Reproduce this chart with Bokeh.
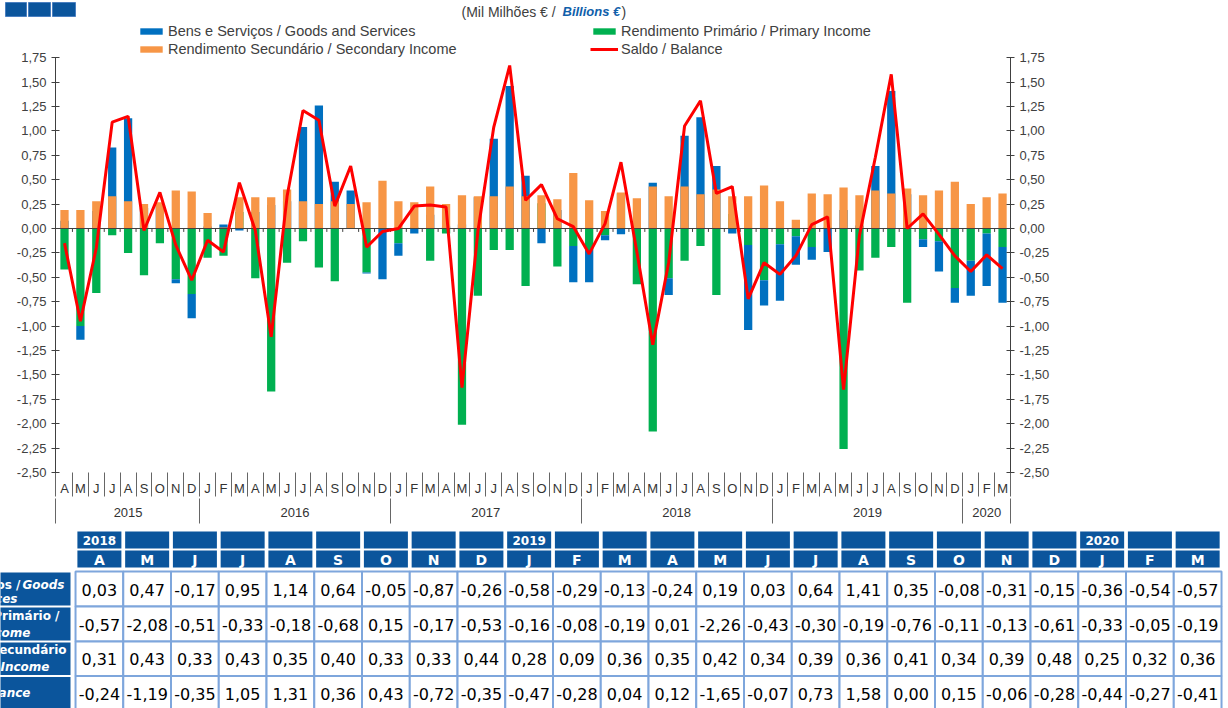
from bokeh.plotting import figure
from bokeh.models import (Range1d, LinearAxis, FixedTicker, CustomJSTickFormatter,
                          Legend, LegendItem, Label, ColumnDataSource)
from bokeh.embed import file_html
from bokeh.resources import INLINE
from bokeh.core.properties import value

# ---------------- data ----------------
months = ["A", "M", "J", "J", "A", "S", "O", "N", "D",
          "J", "F", "M", "A", "M", "J", "J", "A", "S", "O", "N", "D",
          "J", "F", "M", "A", "M", "J", "J", "A", "S", "O", "N", "D",
          "J", "F", "M", "A", "M", "J", "J", "A", "S", "O", "N", "D",
          "J", "F", "M", "A", "M", "J", "J", "A", "S", "O", "N", "D",
          "J", "F", "M"]
years = [2015] * 9 + [2016] * 12 + [2017] * 12 + [2018] * 12 + [2019] * 12 + [2020] * 3

goods = [0.08, -0.14, 0.18, 0.83, 1.13, 0.21, 0.25, -0.04, -0.25,
         0.02, 0.04, -0.02, 0.17, 0.24, 0.28, 1.04, 1.26, 0.48, 0.39, -0.01, -0.52,
         -0.13, -0.05, 0.14, 0.02, 0.04, 0.32, 0.92, 1.46, 0.54, -0.15, 0.19, -0.37,
         -0.33, -0.05, -0.06, 0.03, 0.47, -0.17, 0.95, 1.14, 0.64, -0.05, -0.87, -0.26,
         -0.58, -0.29, -0.13, -0.24, 0.19, 0.03, 0.64, 1.41, 0.35, -0.08, -0.31, -0.15,
         -0.36, -0.54, -0.57]
primary = [-0.42, -1.00, -0.66, -0.07, -0.25, -0.48, -0.15, -0.52, -0.67,
           -0.30, -0.28, 0.17, -0.51, -1.67, -0.35, -0.13, -0.40, -0.54, 0.00, -0.45, 0.00,
           -0.15, 0.01, -0.33, -0.05, -2.01, -0.69, -0.22, -0.22, -0.59, 0.26, -0.39, -0.18,
           -0.22, -0.07, 0.36, -0.57, -2.08, -0.51, -0.33, -0.18, -0.68, 0.15, -0.17, -0.53,
           -0.16, -0.08, -0.19, 0.01, -2.26, -0.43, -0.30, -0.19, -0.76, -0.11, -0.13, -0.61,
           -0.33, -0.05, -0.19]
secondary = [0.19, 0.19, 0.28, 0.33, 0.28, 0.25, 0.27, 0.39, 0.38,
             0.16, 0.01, 0.32, 0.32, 0.32, 0.40, 0.28, 0.25, 0.28, 0.25, 0.27, 0.49,
             0.28, 0.27, 0.43, 0.25, 0.34, 0.33, 0.33, 0.43, 0.33, 0.34, 0.30, 0.57,
             0.29, 0.18, 0.37, 0.31, 0.43, 0.33, 0.43, 0.35, 0.40, 0.33, 0.33, 0.44,
             0.28, 0.09, 0.36, 0.35, 0.42, 0.34, 0.39, 0.36, 0.41, 0.34, 0.39, 0.48,
             0.25, 0.32, 0.36]
balance = [-0.15, -0.95, -0.20, 1.09, 1.15, -0.02, 0.37, -0.17, -0.53,
           -0.12, -0.24, 0.47, -0.02, -1.11, 0.33, 1.21, 1.11, 0.23, 0.64, -0.19, -0.03,
           0.00, 0.23, 0.24, 0.22, -1.63, -0.03, 1.04, 1.67, 0.29, 0.45, 0.10, 0.02,
           -0.26, 0.05, 0.68, -0.24, -1.19, -0.35, 1.05, 1.31, 0.36, 0.43, -0.72, -0.35,
           -0.47, -0.28, 0.04, 0.12, -1.65, -0.07, 0.73, 1.58, 0.00, 0.15, -0.06, -0.28,
           -0.44, -0.27, -0.41]

series_names = ["Bens e Serviços / Goods and Services",
                "Rendimento Primário / Primary Income",
                "Rendimento Secundário / Secondary Income",
                "Saldo / Balance"]
y_ticks = [i * 0.25 for i in range(-10, 8)]
N_TABLE = 24

# ---------------- styles ----------------
FONT = "Liberation Sans"
TFONT = "DejaVu Sans"
BLUE, GREEN, ORANGE, RED = "#0070C0", "#00B050", "#F79646", "#FF0000"
HDR = "#0B559C"
GRIDC = "#7EA6DC"
TXT = "#404040"
W = 1228

n = len(months)
idx = list(range(n))
# goods stacked on primary when they share sign, else drawn from zero
g_bot = [pp if g * pp > 0 else 0.0 for g, pp in zip(goods, primary)]
g_top = [b + g for b, g in zip(g_bot, goods)]
src = ColumnDataSource(dict(x=idx, gb=g_bot, gt=g_top, pr=primary, se=secondary, ba=balance))

# ---------------- header strip (page y 0..22) ----------------
hdr = figure(width=W, height=22, x_range=Range1d(0, W), y_range=Range1d(22, 0),
             output_backend="svg", toolbar_location=None,
             x_axis_location=None, y_axis_location=None, min_border=0)
hdr.outline_line_color = None
hdr.grid.visible = False
hdr.quad(left=[5, 28, 52], right=[26, 50, 75], top=[2, 2, 2], bottom=[16, 16, 16],
         fill_color=HDR, line_color="#4a7fc0", line_width=1)
hdr.add_layout(Label(x=461, y=11, text="(Mil Milhões € /", text_font=FONT,
                     text_font_size="14px", text_color=TXT, text_baseline="middle"))
hdr.add_layout(Label(x=562, y=11, text="Billions  €", text_font=FONT,
                     text_font_style="bold italic", text_font_size="13px",
                     text_color="#1060AA", text_baseline="middle"))
hdr.add_layout(Label(x=621, y=11, text=")", text_font=FONT,
                     text_font_size="14px", text_color=TXT, text_baseline="middle"))

# ---------------- chart (page y 22..524) ----------------
p = figure(width=W, height=502, x_range=Range1d(-0.566, 59.5), y_range=Range1d(-2.5, 2.111),
           output_backend="svg", toolbar_location=None,
           x_axis_location=None, y_axis_location=None,
           min_border=0, min_border_left=55, min_border_right=218,
           min_border_top=0, min_border_bottom=52)
p.outline_line_color = None
p.grid.visible = False

BW = 0.52
rg = p.vbar(x="x", bottom=0, top="pr", width=BW, source=src, fill_color=GREEN, line_color=None)
rb = p.vbar(x="x", bottom="gb", top="gt", width=BW, source=src, fill_color=BLUE, line_color=None)
ro = p.vbar(x="x", bottom=0, top="se", width=BW, source=src, fill_color=ORANGE, line_color=None)
p.hspan(y=[0], line_color=TXT, line_width=1)
inner_bounds = [i + 0.5 for i in range(n - 1)]
p.segment(x0="b", x1="b", y0=0, y1=-0.035, source=ColumnDataSource(dict(b=inner_bounds)),
          line_color=TXT, line_width=1)
rl = p.line(x="x", y="ba", source=src, line_color=RED, line_width=3)

yfmt = CustomJSTickFormatter(code="return tick.toFixed(2).replace('.', ',');")
for loc in ("left", "right"):
    ax = LinearAxis(ticker=FixedTicker(ticks=y_ticks), formatter=yfmt, bounds=(-2.5, 1.75))
    ax.axis_line_color = TXT
    ax.major_tick_line_color = TXT
    ax.major_tick_in = 4
    ax.major_tick_out = 4
    ax.minor_tick_line_color = None
    ax.major_label_text_font = FONT
    ax.major_label_text_font_size = "13px"
    ax.major_label_text_color = TXT
    ax.major_label_standoff = 5
    p.add_layout(ax, loc)

x0, x1 = p.x_range.start + 0.006, p.x_range.end - 0.006
month_bounds = [x0] + inner_bounds + [x1]
mfmt = CustomJSTickFormatter(args=dict(labels=months),
                             code="const i = Math.round(tick); return (i >= 0 && i < labels.length) ? labels[i] : '';")
mx = LinearAxis(ticker=FixedTicker(ticks=idx, minor_ticks=month_bounds), formatter=mfmt)
mx.axis_line_color = None
mx.major_tick_line_color = None
mx.major_tick_in = 0
mx.major_tick_out = 0
mx.minor_tick_line_color = "#666666"
mx.minor_tick_in = 0
mx.minor_tick_out = 24
mx.major_label_standoff = -16
mx.major_label_text_font = FONT
mx.major_label_text_font_size = "13px"
mx.major_label_text_color = "#333333"
p.add_layout(mx, "below")

uniq_years = sorted(set(years))
year_centers = [sum(i for i in idx if years[i] == y) / years.count(y) for y in uniq_years]
year_bounds = [x0] + [i - 0.5 for i in idx[1:] if years[i] != years[i - 1]] + [x1]
yrfmt = CustomJSTickFormatter(args=dict(c=year_centers, nm=[str(y) for y in uniq_years]),
                              code="for (let i = 0; i < c.length; i++) { if (Math.abs(c[i] - tick) < 1e-6) return nm[i]; } return '';")
yx = LinearAxis(ticker=FixedTicker(ticks=year_centers, minor_ticks=year_bounds), formatter=yrfmt)
yx.axis_line_color = None
yx.major_tick_line_color = None
yx.major_tick_in = 0
yx.major_tick_out = 0
yx.minor_tick_line_color = "#666666"
yx.minor_tick_in = 0
yx.minor_tick_out = 25
yx.major_label_standoff = -16
yx.major_label_text_font = FONT
yx.major_label_text_font_size = "13px"
yx.major_label_text_color = "#333333"
p.add_layout(yx, "below")


def mk_leg(items, x):
    return Legend(items=items, location=(x, 415), orientation="vertical", padding=0, margin=0,
                  spacing=2, glyph_width=28, glyph_height=8, label_height=16, label_standoff=3,
                  label_text_font=FONT, label_text_font_size="14.5px", label_text_color=TXT,
                  border_line_color=None, background_fill_alpha=0)


p.add_layout(mk_leg([LegendItem(label=series_names[0], renderers=[rb]),
                     LegendItem(label=series_names[2], renderers=[ro])], 82))
p.add_layout(mk_leg([LegendItem(label=series_names[1], renderers=[rg]),
                     LegendItem(label=series_names[3], renderers=[rl])], 535))

# ---------------- table (page y 524..708) ----------------
t = figure(width=W, height=184, x_range=Range1d(0, W), y_range=Range1d(708, 524),
           output_backend="svg", toolbar_location=None,
           x_axis_location=None, y_axis_location=None, min_border=0)
t.outline_line_color = None
t.grid.visible = False

PITCH = 47.75
C0 = 98.9
tm = months[-N_TABLE:]
ty = years[-N_TABLE:]
cx = [C0 + PITCH * j for j in range(N_TABLE)]

t.rect(x=cx, y=539.5, width=44, height=17, fill_color=HDR, line_color=None)
t.rect(x=cx, y=558.5, width=44, height=17, fill_color=HDR, line_color=None)
yr_x = [cx[j] for j in range(N_TABLE) if j == 0 or ty[j] != ty[j - 1]]
yr_t = [str(ty[j]) for j in range(N_TABLE) if j == 0 or ty[j] != ty[j - 1]]
t.text(x=yr_x, y=540, text=yr_t, text_font=value(TFONT), text_font_style="bold",
       text_font_size="12px", text_color="white", text_align="center", text_baseline="middle")
t.text(x=cx, y=559, text=tm, text_font=value(TFONT), text_font_style="bold",
       text_font_size="14px", text_color="white", text_align="center", text_baseline="middle")

row_b = [571, 606, 641, 675.5, 710]
rows = [goods[-N_TABLE:], primary[-N_TABLE:], secondary[-N_TABLE:], balance[-N_TABLE:]]


def fmt(v):
    s = f"{v:.2f}".replace(".", ",")
    return "0,00" if s == "-0,00" else s


cxs, cys, chs, tts = [], [], [], []
for r, vals in enumerate(rows):
    yc = (row_b[r] + row_b[r + 1]) / 2
    for j, v in enumerate(vals):
        cxs.append(cx[j]); cys.append(yc); chs.append(row_b[r + 1] - row_b[r]); tts.append(fmt(v))
t.rect(x=cxs, y=cys, width=PITCH, height=chs, fill_color="white", line_color=GRIDC, line_width=2)
t.text(x=cxs, y=[y + 0.5 for y in cys], text=tts, text_font=value(TFONT), text_font_size="16px",
       text_color="black", text_align="center", text_baseline="middle")

# row label cells (cut off at the left edge, as in the original)
t.quad(left=-20, right=70, top=[572, 607, 642, 676.5], bottom=[605, 640, 674.5, 712],
       fill_color=HDR, line_color=None)
lab = ColumnDataSource(dict(
    x=[20, 64, 17, 59, 30, 66, 49, -10, 30],
    y=[584, 584, 598, 615, 632, 649, 666, 692, 692],
    t=["Bens e Serviços /", "Goods", "and Services", "Rendimento Primário /", "Primary Income",
       "Rendimento Secundário", "/ Secondary Income", "Saldo /", "Balance"],
    s=["bold", "bold italic", "bold italic", "bold", "bold italic", "bold", "bold italic",
       "bold", "bold italic"]))
t.text(x="x", y="y", text="t", text_font_style="s", source=lab, text_font=value(TFONT),
       text_font_size="12px", text_color="white", text_align="right", text_baseline="middle")

open("out.html", "w").write(file_html([hdr, p, t], INLINE))
